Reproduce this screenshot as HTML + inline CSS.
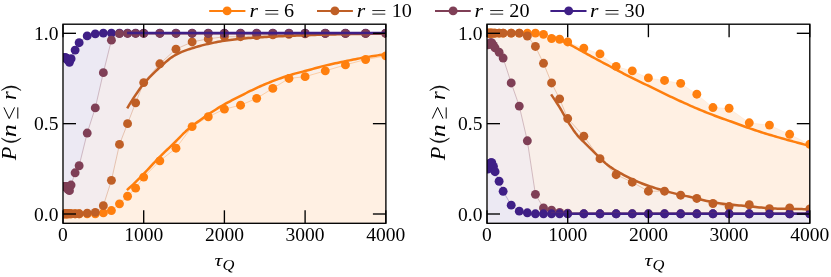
<!DOCTYPE html>
<html><head><meta charset="utf-8"><title>chart</title>
<style>html,body{margin:0;padding:0;background:#fff;}svg{display:block;}</style></head>
<body>
<svg width="831" height="277" viewBox="0 0 831 277">
<defs>
<clipPath id="clipL"><rect x="63" y="24.2" width="322.9" height="199.1"/></clipPath>
<clipPath id="clipR"><rect x="487" y="24.2" width="322.8" height="199.1"/></clipPath>
</defs>
<rect width="831" height="277" fill="#ffffff"/>
<g opacity="0.999">
<g clip-path="url(#clipL)">
<path d="M63.81,223.3 L63.81,57.68 L64.61,57.68 L65.42,57.68 L66.23,58.04 L67.03,58.76 L67.84,60.21 L69.46,62.37 L71.07,58.76 L75.11,50.09 L79.14,42.68 L87.21,35.9 L95.28,33.9 L103.35,33.1 L111.42,33.1 L119.49,33.1 L127.56,33.1 L135.63,33.1 L143.7,33.1 L159.84,33.1 L175.98,33.1 L192.12,33.1 L208.26,33.1 L224.4,33.1 L240.54,33.1 L256.68,33.1 L272.82,33.1 L288.96,33.1 L305.1,33.1 L325.27,33.1 L345.45,33.1 L365.62,33.1 L385.8,33.1 L385.8,223.3 Z" fill="#ece9f3"/>
<path d="M63.81,223.3 L63.81,186.33 L64.61,186.33 L65.42,186.33 L66.23,186.33 L67.03,186.7 L67.84,189.41 L69.46,190.67 L71.07,185.07 L75.11,172.78 L79.14,165.73 L87.21,133.03 L95.28,107.91 L103.35,72.67 L111.42,40.15 L119.49,33.64 L127.56,33.46 L135.63,33.46 L143.7,33.46 L159.84,33.46 L175.98,33.46 L192.12,33.46 L208.26,33.46 L224.4,33.46 L240.54,33.46 L256.68,33.46 L272.82,33.46 L288.96,33.46 L305.1,33.46 L325.27,33.46 L345.45,33.46 L365.62,33.46 L385.8,33.46 L385.8,223.3 Z" fill="#f3ecee"/>
<path d="M63.81,223.3 L63.81,213.8 L64.61,213.8 L65.42,213.8 L66.23,213.8 L67.03,213.8 L67.84,213.8 L69.46,213.8 L71.07,213.8 L75.11,213.8 L79.14,213.8 L87.21,213.08 L95.28,212.35 L103.35,205.67 L111.42,180.37 L119.49,144.41 L127.56,123.63 L135.63,102.85 L143.7,82.61 L159.84,63.82 L175.98,49.18 L192.12,41.95 L208.26,38.88 L224.4,36.71 L240.54,36.71 L256.68,35.63 L272.82,34.91 L288.96,34.36 L305.1,33.82 L325.27,33.46 L345.45,33.46 L365.62,33.46 L385.8,33.46 L385.8,223.3 Z" fill="#f9efe9"/>
<path d="M63.81,223.3 L63.81,213.8 L64.61,213.8 L65.42,213.8 L66.23,213.8 L67.03,213.8 L67.84,213.8 L69.46,213.8 L71.07,213.8 L75.11,213.8 L79.14,213.8 L87.21,213.8 L95.28,213.8 L103.35,212.9 L111.42,210.55 L119.49,203.86 L127.56,196.27 L135.63,188.14 L143.7,177.12 L159.84,160.85 L175.98,148.21 L192.12,126.61 L208.26,116.76 L224.4,109.17 L240.54,105.2 L256.68,98.33 L272.82,88.39 L288.96,78.46 L305.1,76.65 L325.27,70.87 L345.45,64.9 L365.62,59.48 L385.8,55.87 L385.8,223.3 Z" fill="#fff0e3"/>
<polyline points="63.81,213.8 64.61,213.8 65.42,213.8 66.23,213.8 67.03,213.8 67.84,213.8 69.46,213.8 71.07,213.8 75.11,213.8 79.14,213.8 87.21,213.8 95.28,213.8 103.35,212.9 111.42,210.55 119.49,203.86 127.56,196.27 135.63,188.14 143.7,177.12 159.84,160.85 175.98,148.21 192.12,126.61 208.26,116.76 224.4,109.17 240.54,105.2 256.68,98.33 272.82,88.39 288.96,78.46 305.1,76.65 325.27,70.87 345.45,64.9 365.62,59.48 385.8,55.87" fill="none" stroke="#ff7f0e" stroke-width="0.6" stroke-opacity="0.5"/>
<g fill="#ff7f0e"><circle cx="63.81" cy="213.8" r="4.45"/><circle cx="64.61" cy="213.8" r="4.45"/><circle cx="65.42" cy="213.8" r="4.45"/><circle cx="66.23" cy="213.8" r="4.45"/><circle cx="67.03" cy="213.8" r="4.45"/><circle cx="67.84" cy="213.8" r="4.45"/><circle cx="69.46" cy="213.8" r="4.45"/><circle cx="71.07" cy="213.8" r="4.45"/><circle cx="75.11" cy="213.8" r="4.45"/><circle cx="79.14" cy="213.8" r="4.45"/><circle cx="87.21" cy="213.8" r="4.45"/><circle cx="95.28" cy="213.8" r="4.45"/><circle cx="103.35" cy="212.9" r="4.45"/><circle cx="111.42" cy="210.55" r="4.45"/><circle cx="119.49" cy="203.86" r="4.45"/><circle cx="127.56" cy="196.27" r="4.45"/><circle cx="135.63" cy="188.14" r="4.45"/><circle cx="143.7" cy="177.12" r="4.45"/><circle cx="159.84" cy="160.85" r="4.45"/><circle cx="175.98" cy="148.21" r="4.45"/><circle cx="192.12" cy="126.61" r="4.45"/><circle cx="208.26" cy="116.76" r="4.45"/><circle cx="224.4" cy="109.17" r="4.45"/><circle cx="240.54" cy="105.2" r="4.45"/><circle cx="256.68" cy="98.33" r="4.45"/><circle cx="272.82" cy="88.39" r="4.45"/><circle cx="288.96" cy="78.46" r="4.45"/><circle cx="305.1" cy="76.65" r="4.45"/><circle cx="325.27" cy="70.87" r="4.45"/><circle cx="345.45" cy="64.9" r="4.45"/><circle cx="365.62" cy="59.48" r="4.45"/><circle cx="385.8" cy="55.87" r="4.45"/></g>
<polyline points="63.81,213.8 64.61,213.8 65.42,213.8 66.23,213.8 67.03,213.8 67.84,213.8 69.46,213.8 71.07,213.8 75.11,213.8 79.14,213.8 87.21,213.08 95.28,212.35 103.35,205.67 111.42,180.37 119.49,144.41 127.56,123.63 135.63,102.85 143.7,82.61 159.84,63.82 175.98,49.18 192.12,41.95 208.26,38.88 224.4,36.71 240.54,36.71 256.68,35.63 272.82,34.91 288.96,34.36 305.1,33.82 325.27,33.46 345.45,33.46 365.62,33.46 385.8,33.46" fill="none" stroke="#bf5f26" stroke-width="0.6" stroke-opacity="0.5"/>
<g fill="#bf5f26"><circle cx="63.81" cy="213.8" r="4.45"/><circle cx="64.61" cy="213.8" r="4.45"/><circle cx="65.42" cy="213.8" r="4.45"/><circle cx="66.23" cy="213.8" r="4.45"/><circle cx="67.03" cy="213.8" r="4.45"/><circle cx="67.84" cy="213.8" r="4.45"/><circle cx="69.46" cy="213.8" r="4.45"/><circle cx="71.07" cy="213.8" r="4.45"/><circle cx="75.11" cy="213.8" r="4.45"/><circle cx="79.14" cy="213.8" r="4.45"/><circle cx="87.21" cy="213.08" r="4.45"/><circle cx="95.28" cy="212.35" r="4.45"/><circle cx="103.35" cy="205.67" r="4.45"/><circle cx="111.42" cy="180.37" r="4.45"/><circle cx="119.49" cy="144.41" r="4.45"/><circle cx="127.56" cy="123.63" r="4.45"/><circle cx="135.63" cy="102.85" r="4.45"/><circle cx="143.7" cy="82.61" r="4.45"/><circle cx="159.84" cy="63.82" r="4.45"/><circle cx="175.98" cy="49.18" r="4.45"/><circle cx="192.12" cy="41.95" r="4.45"/><circle cx="208.26" cy="38.88" r="4.45"/><circle cx="224.4" cy="36.71" r="4.45"/><circle cx="240.54" cy="36.71" r="4.45"/><circle cx="256.68" cy="35.63" r="4.45"/><circle cx="272.82" cy="34.91" r="4.45"/><circle cx="288.96" cy="34.36" r="4.45"/><circle cx="305.1" cy="33.82" r="4.45"/><circle cx="325.27" cy="33.46" r="4.45"/><circle cx="345.45" cy="33.46" r="4.45"/><circle cx="365.62" cy="33.46" r="4.45"/><circle cx="385.8" cy="33.46" r="4.45"/></g>
<polyline points="63.81,57.68 64.61,57.68 65.42,57.68 66.23,58.04 67.03,58.76 67.84,60.21 69.46,62.37 71.07,58.76 75.11,50.09 79.14,42.68 87.21,35.9 95.28,33.9 103.35,33.1 111.42,33.1 119.49,33.1 127.56,33.1 135.63,33.1 143.7,33.1 159.84,33.1 175.98,33.1 192.12,33.1 208.26,33.1 224.4,33.1 240.54,33.1 256.68,33.1 272.82,33.1 288.96,33.1 305.1,33.1 325.27,33.1 345.45,33.1 365.62,33.1 385.8,33.1" fill="none" stroke="#3f1f86" stroke-width="0.6" stroke-opacity="0.5"/>
<g fill="#3f1f86"><circle cx="63.81" cy="57.68" r="4.45"/><circle cx="64.61" cy="57.68" r="4.45"/><circle cx="65.42" cy="57.68" r="4.45"/><circle cx="66.23" cy="58.04" r="4.45"/><circle cx="67.03" cy="58.76" r="4.45"/><circle cx="67.84" cy="60.21" r="4.45"/><circle cx="69.46" cy="62.37" r="4.45"/><circle cx="71.07" cy="58.76" r="4.45"/><circle cx="75.11" cy="50.09" r="4.45"/><circle cx="79.14" cy="42.68" r="4.45"/><circle cx="87.21" cy="35.9" r="4.45"/><circle cx="95.28" cy="33.9" r="4.45"/><circle cx="103.35" cy="33.1" r="4.45"/><circle cx="111.42" cy="33.1" r="4.45"/><circle cx="119.49" cy="33.1" r="4.45"/><circle cx="127.56" cy="33.1" r="4.45"/><circle cx="135.63" cy="33.1" r="4.45"/><circle cx="143.7" cy="33.1" r="4.45"/><circle cx="159.84" cy="33.1" r="4.45"/><circle cx="175.98" cy="33.1" r="4.45"/><circle cx="192.12" cy="33.1" r="4.45"/><circle cx="208.26" cy="33.1" r="4.45"/><circle cx="224.4" cy="33.1" r="4.45"/><circle cx="240.54" cy="33.1" r="4.45"/><circle cx="256.68" cy="33.1" r="4.45"/><circle cx="272.82" cy="33.1" r="4.45"/><circle cx="288.96" cy="33.1" r="4.45"/><circle cx="305.1" cy="33.1" r="4.45"/><circle cx="325.27" cy="33.1" r="4.45"/><circle cx="345.45" cy="33.1" r="4.45"/><circle cx="365.62" cy="33.1" r="4.45"/><circle cx="385.8" cy="33.1" r="4.45"/></g>
<polyline points="63.81,186.33 64.61,186.33 65.42,186.33 66.23,186.33 67.03,186.7 67.84,189.41 69.46,190.67 71.07,185.07 75.11,172.78 79.14,165.73 87.21,133.03 95.28,107.91 103.35,72.67 111.42,40.15 119.49,33.64 127.56,33.46 135.63,33.46 143.7,33.46 159.84,33.46 175.98,33.46 192.12,33.46 208.26,33.46 224.4,33.46 240.54,33.46 256.68,33.46 272.82,33.46 288.96,33.46 305.1,33.46 325.27,33.46 345.45,33.46 365.62,33.46 385.8,33.46" fill="none" stroke="#7f3f56" stroke-width="0.6" stroke-opacity="0.5"/>
<g fill="#7f3f56"><circle cx="63.81" cy="186.33" r="4.45"/><circle cx="64.61" cy="186.33" r="4.45"/><circle cx="65.42" cy="186.33" r="4.45"/><circle cx="66.23" cy="186.33" r="4.45"/><circle cx="67.03" cy="186.7" r="4.45"/><circle cx="67.84" cy="189.41" r="4.45"/><circle cx="69.46" cy="190.67" r="4.45"/><circle cx="71.07" cy="185.07" r="4.45"/><circle cx="75.11" cy="172.78" r="4.45"/><circle cx="79.14" cy="165.73" r="4.45"/><circle cx="87.21" cy="133.03" r="4.45"/><circle cx="95.28" cy="107.91" r="4.45"/><circle cx="103.35" cy="72.67" r="4.45"/><circle cx="111.42" cy="40.15" r="4.45"/><circle cx="119.49" cy="33.64" r="4.45"/><circle cx="127.56" cy="33.46" r="4.45"/><circle cx="135.63" cy="33.46" r="4.45"/><circle cx="143.7" cy="33.46" r="4.45"/><circle cx="159.84" cy="33.46" r="4.45"/><circle cx="175.98" cy="33.46" r="4.45"/><circle cx="192.12" cy="33.46" r="4.45"/><circle cx="208.26" cy="33.46" r="4.45"/><circle cx="224.4" cy="33.46" r="4.45"/><circle cx="240.54" cy="33.46" r="4.45"/><circle cx="256.68" cy="33.46" r="4.45"/><circle cx="272.82" cy="33.46" r="4.45"/><circle cx="288.96" cy="33.46" r="4.45"/><circle cx="305.1" cy="33.46" r="4.45"/><circle cx="325.27" cy="33.46" r="4.45"/><circle cx="345.45" cy="33.46" r="4.45"/><circle cx="365.62" cy="33.46" r="4.45"/><circle cx="385.8" cy="33.46" r="4.45"/></g>
<polyline points="126.9,190.1 128.92,188.31 130.95,186.48 132.97,184.6 134.99,182.68 137.01,180.72 139.04,178.7 141.06,176.64 143.08,174.55 145.1,172.43 147.13,170.25 149.15,168.04 151.17,165.83 153.19,163.65 155.22,161.52 157.24,159.41 159.26,157.34 161.29,155.33 163.31,153.38 165.33,151.45 167.35,149.53 169.38,147.6 171.4,145.65 173.42,143.7 175.44,141.74 177.47,139.73 179.49,137.63 181.51,135.49 183.53,133.43 185.56,131.54 187.58,129.76 189.6,128.06 191.62,126.42 193.65,124.85 195.67,123.35 197.69,121.88 199.72,120.4 201.74,118.92 203.76,117.45 205.78,116 207.81,114.6 209.83,113.26 211.85,111.97 213.87,110.7 215.9,109.44 217.92,108.18 219.94,106.94 221.96,105.72 223.99,104.55 226.01,103.43 228.03,102.34 230.06,101.27 232.08,100.23 234.1,99.2 236.12,98.17 238.15,97.15 240.17,96.11 242.19,95.07 244.21,94.03 246.24,93 248.26,91.99 250.28,90.99 252.3,90.02 254.33,89.06 256.35,88.11 258.37,87.18 260.4,86.26 262.42,85.36 264.44,84.48 266.46,83.63 268.49,82.8 270.51,81.99 272.53,81.2 274.55,80.42 276.58,79.66 278.6,78.92 280.62,78.2 282.64,77.49 284.67,76.81 286.69,76.14 288.71,75.49 290.74,74.85 292.76,74.25 294.78,73.66 296.8,73.11 298.83,72.59 300.85,72.09 302.87,71.59 304.89,71.08 306.92,70.54 308.94,69.99 310.96,69.43 312.98,68.86 315.01,68.29 317.03,67.73 319.05,67.18 321.07,66.64 323.1,66.12 325.12,65.62 327.14,65.14 329.17,64.67 331.19,64.22 333.21,63.77 335.23,63.34 337.26,62.91 339.28,62.48 341.3,62.06 343.32,61.65 345.35,61.23 347.37,60.81 349.39,60.39 351.41,59.97 353.44,59.56 355.46,59.15 357.48,58.75 359.51,58.36 361.53,57.98 363.55,57.62 365.57,57.27 367.6,56.94 369.62,56.61 371.64,56.29 373.66,55.97 375.69,55.67 377.71,55.38 379.73,55.09 381.75,54.82 383.78,54.55 385.8,54.3" fill="none" stroke="#ff7f0e" stroke-width="2.5" stroke-linejoin="round"/>
<polyline points="127.2,108.3 129.22,104.89 131.24,101.6 133.26,98.43 135.28,95.38 137.3,92.43 139.32,89.57 141.34,86.84 143.36,84.29 145.38,81.9 147.4,79.62 149.42,77.43 151.44,75.33 153.46,73.31 155.48,71.37 157.5,69.5 159.53,67.64 161.55,65.79 163.57,63.96 165.59,62.18 167.61,60.47 169.63,58.85 171.65,57.36 173.67,56 175.69,54.82 177.71,53.79 179.73,52.84 181.75,51.96 183.77,51.14 185.79,50.38 187.81,49.66 189.83,48.98 191.85,48.33 193.87,47.7 195.89,47.09 197.91,46.5 199.93,45.94 201.95,45.4 203.97,44.88 205.99,44.39 208.01,43.92 210.03,43.46 212.05,43.03 214.07,42.62 216.09,42.22 218.11,41.84 220.13,41.48 222.15,41.14 224.18,40.82 226.2,40.52 228.22,40.24 230.24,39.96 232.26,39.7 234.28,39.46 236.3,39.23 238.32,39.02 240.34,38.81 242.36,38.62 244.38,38.44 246.4,38.27 248.42,38.12 250.44,37.97 252.46,37.83 254.48,37.69 256.5,37.56 258.52,37.44 260.54,37.32 262.56,37.2 264.58,37.09 266.6,36.98 268.62,36.87 270.64,36.77 272.66,36.66 274.68,36.56 276.7,36.47 278.72,36.37 280.74,36.27 282.76,36.18 284.78,36.09 286.8,36 288.82,35.92 290.85,35.83 292.87,35.75 294.89,35.67 296.91,35.59 298.93,35.51 300.95,35.44 302.97,35.36 304.99,35.29 307.01,35.22 309.03,35.14 311.05,35.07 313.07,35 315.09,34.93 317.11,34.86 319.13,34.8 321.15,34.73 323.17,34.67 325.19,34.62 327.21,34.57 329.23,34.52 331.25,34.47 333.27,34.43 335.29,34.39 337.31,34.35 339.33,34.31 341.35,34.28 343.37,34.25 345.39,34.21 347.41,34.18 349.43,34.15 351.45,34.12 353.48,34.09 355.5,34.06 357.52,34.03 359.54,34.01 361.56,33.98 363.58,33.95 365.6,33.93 367.62,33.9 369.64,33.88 371.66,33.85 373.68,33.83 375.7,33.8 377.72,33.78 379.74,33.76 381.76,33.74 383.78,33.72 385.8,33.7" fill="none" stroke="#bf5f26" stroke-width="2.5" stroke-linejoin="round"/>
<polyline points="127.1,33.2 385.8,33.2" fill="none" stroke="#7f3f56" stroke-width="2.5" stroke-linejoin="round"/>
<polyline points="127.1,33.1 385.8,33.1" fill="none" stroke="#3f1f86" stroke-width="2.5" stroke-linejoin="round"/>
</g>
<g stroke="#000" stroke-width="1.35">
<line x1="63" y1="223.3" x2="63" y2="210.3"/>
<line x1="63" y1="24.2" x2="63" y2="37.2"/>
<line x1="143.7" y1="223.3" x2="143.7" y2="210.3"/>
<line x1="143.7" y1="24.2" x2="143.7" y2="37.2"/>
<line x1="224.4" y1="223.3" x2="224.4" y2="210.3"/>
<line x1="224.4" y1="24.2" x2="224.4" y2="37.2"/>
<line x1="305.1" y1="223.3" x2="305.1" y2="210.3"/>
<line x1="305.1" y1="24.2" x2="305.1" y2="37.2"/>
<line x1="385.8" y1="223.3" x2="385.8" y2="210.3"/>
<line x1="385.8" y1="24.2" x2="385.8" y2="37.2"/>
<line x1="63" y1="214" x2="76" y2="214"/>
<line x1="385.9" y1="214" x2="372.9" y2="214"/>
<line x1="63" y1="123.65" x2="76" y2="123.65"/>
<line x1="385.9" y1="123.65" x2="372.9" y2="123.65"/>
<line x1="63" y1="33.3" x2="76" y2="33.3"/>
<line x1="385.9" y1="33.3" x2="372.9" y2="33.3"/>
</g>
<rect x="63" y="24.2" width="322.9" height="199.1" fill="none" stroke="#000" stroke-width="1.35"/>
<g font-family="'Liberation Serif', serif" font-size="18.6" fill="#000">
<text transform="translate(63,240.8) scale(1.05,1)" text-anchor="middle">0</text>
<text transform="translate(143.7,240.8) scale(1.05,1)" text-anchor="middle">1000</text>
<text transform="translate(224.4,240.8) scale(1.05,1)" text-anchor="middle">2000</text>
<text transform="translate(305.1,240.8) scale(1.05,1)" text-anchor="middle">3000</text>
<text transform="translate(385.8,240.8) scale(1.05,1)" text-anchor="middle">4000</text>
<text transform="translate(58.4,220.6) scale(1.05,1)" text-anchor="end">0.0</text>
<text transform="translate(58.4,130.25) scale(1.05,1)" text-anchor="end">0.5</text>
<text transform="translate(58.4,39.9) scale(1.05,1)" text-anchor="end">1.0</text>
</g>
<g font-family="'Liberation Serif', serif" font-style="italic" fill="#000"><text transform="translate(214.45,266.2) scale(1.3,1)" font-size="16.5">τ</text><text transform="translate(222.45,269.9) scale(1.1,1)" font-size="15">Q</text></g>
<g transform="translate(16.3,160.6) rotate(-90)" font-family="'Liberation Serif', serif" fill="#000">
<text transform="translate(0.3,0) scale(1.12,1)" font-size="20" font-style="italic">P</text><text transform="translate(23.4,0) scale(1.3,1)" font-size="20" font-style="italic">n</text><text transform="translate(60.6,0) scale(1.12,1)" font-size="20" font-style="italic">r</text>
<path d="M22.4,-15 Q13.6,-5.1 22.4,4.8 Q16.2,-5.1 22.4,-15 Z" stroke="#000" stroke-width="0.5"/>
<path d="M70.2,-15 Q79,-5.1 70.2,4.8 Q76.4,-5.1 70.2,-15 Z" stroke="#000" stroke-width="0.5"/>
<polyline points="53.2,-12.4 42,-7.1 53.2,-1.7" fill="none" stroke="#000" stroke-width="1.0"/>
<line x1="42" y1="1.5" x2="53.2" y2="1.5" stroke="#000" stroke-width="1.0"/>
</g>
<g clip-path="url(#clipR)">
<path d="M487.81,223.3 L487.81,33.1 L488.61,33.1 L489.42,33.1 L490.23,33.1 L491.04,33.1 L491.84,33.1 L493.46,33.1 L495.07,33.1 L499.11,33.1 L503.14,33.1 L511.21,33.1 L519.28,33.1 L527.35,33.1 L535.42,33.1 L543.49,34.36 L551.56,38.52 L559.63,39.24 L567.7,41.95 L583.84,48.1 L599.98,53.88 L616.12,66.35 L632.26,70.87 L648.4,77.91 L664.54,80.44 L680.68,83.33 L696.82,94.18 L712.96,107.55 L729.1,108.27 L749.27,122.8 L769.45,125.08 L789.62,134.29 L809.8,144.23 L809.8,223.3 Z" fill="#fff0e3"/>
<path d="M487.81,223.3 L487.81,33.1 L488.61,33.1 L489.42,33.1 L490.23,33.1 L491.04,33.1 L491.84,33.1 L493.46,33.1 L495.07,33.1 L499.11,33.1 L503.14,33.1 L511.21,33.1 L519.28,33.1 L527.35,35.99 L535.42,46.47 L543.49,63.28 L551.56,82.97 L559.63,98.87 L567.7,118.57 L583.84,136.19 L599.98,158.69 L616.12,174.7 L632.26,182.18 L648.4,191.21 L664.54,191.21 L680.68,195.19 L696.82,198.44 L712.96,203.5 L729.1,206.57 L749.27,204.77 L769.45,208.74 L789.62,208.02 L809.8,208.99 L809.8,223.3 Z" fill="#f9efe9"/>
<path d="M487.81,223.3 L487.81,44.85 L488.61,44.3 L489.42,43.58 L490.23,43.04 L491.04,42.68 L491.84,42.86 L493.46,45.39 L495.07,47.92 L499.11,52.25 L503.14,58.04 L511.21,82.97 L519.28,106.1 L527.35,140.8 L535.42,194.37 L543.49,207.91 L551.56,210.19 L559.63,212.35 L567.7,213.26 L583.84,213.8 L599.98,213.8 L616.12,213.8 L632.26,213.8 L648.4,213.8 L664.54,213.8 L680.68,213.8 L696.82,213.8 L712.96,213.8 L729.1,213.8 L749.27,213.8 L769.45,213.8 L789.62,213.8 L809.8,213.8 L809.8,223.3 Z" fill="#f3ecee"/>
<path d="M487.81,223.3 L487.81,169.17 L488.61,166.46 L489.42,164.47 L490.23,163.2 L491.04,162.66 L491.84,162.66 L493.46,166.46 L495.07,171.7 L499.11,181.27 L503.14,191.3 L511.21,205.13 L519.28,211.16 L527.35,212.79 L535.42,213.8 L543.49,213.8 L551.56,213.8 L559.63,213.8 L567.7,213.8 L583.84,213.8 L599.98,213.8 L616.12,213.8 L632.26,213.8 L648.4,213.8 L664.54,213.8 L680.68,213.8 L696.82,213.8 L712.96,213.8 L729.1,213.8 L749.27,213.8 L769.45,213.8 L789.62,213.8 L809.8,213.8 L809.8,223.3 Z" fill="#ece9f3"/>
<polyline points="487.81,33.1 488.61,33.1 489.42,33.1 490.23,33.1 491.04,33.1 491.84,33.1 493.46,33.1 495.07,33.1 499.11,33.1 503.14,33.1 511.21,33.1 519.28,33.1 527.35,33.1 535.42,33.1 543.49,34.36 551.56,38.52 559.63,39.24 567.7,41.95 583.84,48.1 599.98,53.88 616.12,66.35 632.26,70.87 648.4,77.91 664.54,80.44 680.68,83.33 696.82,94.18 712.96,107.55 729.1,108.27 749.27,122.8 769.45,125.08 789.62,134.29 809.8,144.23" fill="none" stroke="#ff7f0e" stroke-width="0.6" stroke-opacity="0.12"/>
<g fill="#ff7f0e"><circle cx="487.81" cy="33.1" r="4.45"/><circle cx="488.61" cy="33.1" r="4.45"/><circle cx="489.42" cy="33.1" r="4.45"/><circle cx="490.23" cy="33.1" r="4.45"/><circle cx="491.04" cy="33.1" r="4.45"/><circle cx="491.84" cy="33.1" r="4.45"/><circle cx="493.46" cy="33.1" r="4.45"/><circle cx="495.07" cy="33.1" r="4.45"/><circle cx="499.11" cy="33.1" r="4.45"/><circle cx="503.14" cy="33.1" r="4.45"/><circle cx="511.21" cy="33.1" r="4.45"/><circle cx="519.28" cy="33.1" r="4.45"/><circle cx="527.35" cy="33.1" r="4.45"/><circle cx="535.42" cy="33.1" r="4.45"/><circle cx="543.49" cy="34.36" r="4.45"/><circle cx="551.56" cy="38.52" r="4.45"/><circle cx="559.63" cy="39.24" r="4.45"/><circle cx="567.7" cy="41.95" r="4.45"/><circle cx="583.84" cy="48.1" r="4.45"/><circle cx="599.98" cy="53.88" r="4.45"/><circle cx="616.12" cy="66.35" r="4.45"/><circle cx="632.26" cy="70.87" r="4.45"/><circle cx="648.4" cy="77.91" r="4.45"/><circle cx="664.54" cy="80.44" r="4.45"/><circle cx="680.68" cy="83.33" r="4.45"/><circle cx="696.82" cy="94.18" r="4.45"/><circle cx="712.96" cy="107.55" r="4.45"/><circle cx="729.1" cy="108.27" r="4.45"/><circle cx="749.27" cy="122.8" r="4.45"/><circle cx="769.45" cy="125.08" r="4.45"/><circle cx="789.62" cy="134.29" r="4.45"/><circle cx="809.8" cy="144.23" r="4.45"/></g>
<polyline points="487.81,33.1 488.61,33.1 489.42,33.1 490.23,33.1 491.04,33.1 491.84,33.1 493.46,33.1 495.07,33.1 499.11,33.1 503.14,33.1 511.21,33.1 519.28,33.1 527.35,35.99 535.42,46.47 543.49,63.28 551.56,82.97 559.63,98.87 567.7,118.57 583.84,136.19 599.98,158.69 616.12,174.7 632.26,182.18 648.4,191.21 664.54,191.21 680.68,195.19 696.82,198.44 712.96,203.5 729.1,206.57 749.27,204.77 769.45,208.74 789.62,208.02 809.8,208.99" fill="none" stroke="#bf5f26" stroke-width="0.6" stroke-opacity="0.5"/>
<g fill="#bf5f26"><circle cx="487.81" cy="33.1" r="4.45"/><circle cx="488.61" cy="33.1" r="4.45"/><circle cx="489.42" cy="33.1" r="4.45"/><circle cx="490.23" cy="33.1" r="4.45"/><circle cx="491.04" cy="33.1" r="4.45"/><circle cx="491.84" cy="33.1" r="4.45"/><circle cx="493.46" cy="33.1" r="4.45"/><circle cx="495.07" cy="33.1" r="4.45"/><circle cx="499.11" cy="33.1" r="4.45"/><circle cx="503.14" cy="33.1" r="4.45"/><circle cx="511.21" cy="33.1" r="4.45"/><circle cx="519.28" cy="33.1" r="4.45"/><circle cx="527.35" cy="35.99" r="4.45"/><circle cx="535.42" cy="46.47" r="4.45"/><circle cx="543.49" cy="63.28" r="4.45"/><circle cx="551.56" cy="82.97" r="4.45"/><circle cx="559.63" cy="98.87" r="4.45"/><circle cx="567.7" cy="118.57" r="4.45"/><circle cx="583.84" cy="136.19" r="4.45"/><circle cx="599.98" cy="158.69" r="4.45"/><circle cx="616.12" cy="174.7" r="4.45"/><circle cx="632.26" cy="182.18" r="4.45"/><circle cx="648.4" cy="191.21" r="4.45"/><circle cx="664.54" cy="191.21" r="4.45"/><circle cx="680.68" cy="195.19" r="4.45"/><circle cx="696.82" cy="198.44" r="4.45"/><circle cx="712.96" cy="203.5" r="4.45"/><circle cx="729.1" cy="206.57" r="4.45"/><circle cx="749.27" cy="204.77" r="4.45"/><circle cx="769.45" cy="208.74" r="4.45"/><circle cx="789.62" cy="208.02" r="4.45"/><circle cx="809.8" cy="208.99" r="4.45"/></g>
<polyline points="487.81,44.85 488.61,44.3 489.42,43.58 490.23,43.04 491.04,42.68 491.84,42.86 493.46,45.39 495.07,47.92 499.11,52.25 503.14,58.04 511.21,82.97 519.28,106.1 527.35,140.8 535.42,194.37 543.49,207.91 551.56,210.19 559.63,212.35 567.7,213.26 583.84,213.8 599.98,213.8 616.12,213.8 632.26,213.8 648.4,213.8 664.54,213.8 680.68,213.8 696.82,213.8 712.96,213.8 729.1,213.8 749.27,213.8 769.45,213.8 789.62,213.8 809.8,213.8" fill="none" stroke="#7f3f56" stroke-width="0.6" stroke-opacity="0.5"/>
<g fill="#7f3f56"><circle cx="487.81" cy="44.85" r="4.45"/><circle cx="488.61" cy="44.3" r="4.45"/><circle cx="489.42" cy="43.58" r="4.45"/><circle cx="490.23" cy="43.04" r="4.45"/><circle cx="491.04" cy="42.68" r="4.45"/><circle cx="491.84" cy="42.86" r="4.45"/><circle cx="493.46" cy="45.39" r="4.45"/><circle cx="495.07" cy="47.92" r="4.45"/><circle cx="499.11" cy="52.25" r="4.45"/><circle cx="503.14" cy="58.04" r="4.45"/><circle cx="511.21" cy="82.97" r="4.45"/><circle cx="519.28" cy="106.1" r="4.45"/><circle cx="527.35" cy="140.8" r="4.45"/><circle cx="535.42" cy="194.37" r="4.45"/><circle cx="543.49" cy="207.91" r="4.45"/><circle cx="551.56" cy="210.19" r="4.45"/><circle cx="559.63" cy="212.35" r="4.45"/><circle cx="567.7" cy="213.26" r="4.45"/><circle cx="583.84" cy="213.8" r="4.45"/><circle cx="599.98" cy="213.8" r="4.45"/><circle cx="616.12" cy="213.8" r="4.45"/><circle cx="632.26" cy="213.8" r="4.45"/><circle cx="648.4" cy="213.8" r="4.45"/><circle cx="664.54" cy="213.8" r="4.45"/><circle cx="680.68" cy="213.8" r="4.45"/><circle cx="696.82" cy="213.8" r="4.45"/><circle cx="712.96" cy="213.8" r="4.45"/><circle cx="729.1" cy="213.8" r="4.45"/><circle cx="749.27" cy="213.8" r="4.45"/><circle cx="769.45" cy="213.8" r="4.45"/><circle cx="789.62" cy="213.8" r="4.45"/><circle cx="809.8" cy="213.8" r="4.45"/></g>
<polyline points="487.81,169.17 488.61,166.46 489.42,164.47 490.23,163.2 491.04,162.66 491.84,162.66 493.46,166.46 495.07,171.7 499.11,181.27 503.14,191.3 511.21,205.13 519.28,211.16 527.35,212.79 535.42,213.8 543.49,213.8 551.56,213.8 559.63,213.8 567.7,213.8 583.84,213.8 599.98,213.8 616.12,213.8 632.26,213.8 648.4,213.8 664.54,213.8 680.68,213.8 696.82,213.8 712.96,213.8 729.1,213.8 749.27,213.8 769.45,213.8 789.62,213.8 809.8,213.8" fill="none" stroke="#3f1f86" stroke-width="0.6" stroke-opacity="0.5"/>
<g fill="#3f1f86"><circle cx="487.81" cy="169.17" r="4.45"/><circle cx="488.61" cy="166.46" r="4.45"/><circle cx="489.42" cy="164.47" r="4.45"/><circle cx="490.23" cy="163.2" r="4.45"/><circle cx="491.04" cy="162.66" r="4.45"/><circle cx="491.84" cy="162.66" r="4.45"/><circle cx="493.46" cy="166.46" r="4.45"/><circle cx="495.07" cy="171.7" r="4.45"/><circle cx="499.11" cy="181.27" r="4.45"/><circle cx="503.14" cy="191.3" r="4.45"/><circle cx="511.21" cy="205.13" r="4.45"/><circle cx="519.28" cy="211.16" r="4.45"/><circle cx="527.35" cy="212.79" r="4.45"/><circle cx="535.42" cy="213.8" r="4.45"/><circle cx="543.49" cy="213.8" r="4.45"/><circle cx="551.56" cy="213.8" r="4.45"/><circle cx="559.63" cy="213.8" r="4.45"/><circle cx="567.7" cy="213.8" r="4.45"/><circle cx="583.84" cy="213.8" r="4.45"/><circle cx="599.98" cy="213.8" r="4.45"/><circle cx="616.12" cy="213.8" r="4.45"/><circle cx="632.26" cy="213.8" r="4.45"/><circle cx="648.4" cy="213.8" r="4.45"/><circle cx="664.54" cy="213.8" r="4.45"/><circle cx="680.68" cy="213.8" r="4.45"/><circle cx="696.82" cy="213.8" r="4.45"/><circle cx="712.96" cy="213.8" r="4.45"/><circle cx="729.1" cy="213.8" r="4.45"/><circle cx="749.27" cy="213.8" r="4.45"/><circle cx="769.45" cy="213.8" r="4.45"/><circle cx="789.62" cy="213.8" r="4.45"/><circle cx="809.8" cy="213.8" r="4.45"/></g>
<polyline points="551.2,36.2 553.22,36.96 555.24,37.76 557.26,38.6 559.28,39.46 561.3,40.36 563.32,41.3 565.34,42.28 567.36,43.28 569.38,44.31 571.4,45.38 573.42,46.48 575.44,47.59 577.46,48.72 579.48,49.85 581.5,50.98 583.53,52.09 585.55,53.2 587.57,54.32 589.59,55.43 591.61,56.55 593.63,57.66 595.65,58.75 597.67,59.84 599.69,60.93 601.71,62 603.73,63.07 605.75,64.14 607.77,65.2 609.79,66.27 611.81,67.34 613.83,68.4 615.85,69.48 617.87,70.56 619.89,71.64 621.91,72.72 623.93,73.78 625.95,74.83 627.97,75.85 629.99,76.85 632.01,77.84 634.03,78.82 636.05,79.8 638.07,80.79 640.09,81.78 642.11,82.77 644.13,83.76 646.15,84.75 648.17,85.74 650.2,86.73 652.22,87.71 654.24,88.7 656.26,89.68 658.28,90.66 660.3,91.64 662.32,92.62 664.34,93.6 666.36,94.58 668.38,95.55 670.4,96.52 672.42,97.48 674.44,98.44 676.46,99.38 678.48,100.31 680.5,101.24 682.52,102.16 684.54,103.07 686.56,103.98 688.58,104.88 690.6,105.77 692.62,106.66 694.64,107.53 696.66,108.39 698.68,109.24 700.7,110.09 702.72,110.92 704.74,111.74 706.76,112.56 708.78,113.36 710.8,114.16 712.83,114.95 714.85,115.72 716.87,116.49 718.89,117.24 720.91,117.97 722.93,118.7 724.95,119.41 726.97,120.13 728.99,120.84 731.01,121.55 733.03,122.28 735.05,123.01 737.07,123.76 739.09,124.51 741.11,125.26 743.13,126.01 745.15,126.75 747.17,127.47 749.19,128.18 751.21,128.87 753.23,129.55 755.25,130.23 757.27,130.89 759.29,131.55 761.31,132.2 763.33,132.84 765.35,133.47 767.37,134.09 769.39,134.71 771.41,135.31 773.43,135.91 775.45,136.5 777.47,137.08 779.5,137.66 781.52,138.24 783.54,138.81 785.56,139.38 787.58,139.95 789.6,140.51 791.62,141.06 793.64,141.62 795.66,142.16 797.68,142.71 799.7,143.26 801.72,143.8 803.74,144.35 805.76,144.9 807.78,145.45 809.8,146" fill="none" stroke="#ff7f0e" stroke-width="2.5" stroke-linejoin="round"/>
<polyline points="551.1,94.4 553.12,97.35 555.14,100.38 557.16,103.5 559.18,106.69 561.21,110 563.23,113.52 565.25,117.1 567.27,120.6 569.29,123.85 571.31,126.93 573.33,129.91 575.35,132.73 577.37,135.33 579.4,137.66 581.42,139.74 583.44,141.69 585.46,143.6 587.48,145.58 589.5,147.62 591.52,149.66 593.54,151.69 595.56,153.68 597.59,155.65 599.61,157.64 601.63,159.62 603.65,161.54 605.67,163.35 607.69,164.99 609.71,166.47 611.73,167.87 613.75,169.2 615.77,170.46 617.8,171.67 619.82,172.83 621.84,173.95 623.86,175.03 625.88,176.09 627.9,177.12 629.92,178.12 631.94,179.09 633.96,180.03 635.99,180.94 638.01,181.82 640.03,182.66 642.05,183.47 644.07,184.25 646.09,184.99 648.11,185.71 650.13,186.4 652.15,187.06 654.18,187.7 656.2,188.33 658.22,188.94 660.24,189.53 662.26,190.12 664.28,190.69 666.3,191.25 668.32,191.8 670.34,192.34 672.37,192.86 674.39,193.37 676.41,193.87 678.43,194.36 680.45,194.83 682.47,195.29 684.49,195.72 686.51,196.14 688.53,196.57 690.56,197.03 692.58,197.51 694.6,198.02 696.62,198.54 698.64,199.05 700.66,199.56 702.68,200.05 704.7,200.51 706.72,200.93 708.75,201.33 710.77,201.72 712.79,202.1 714.81,202.46 716.83,202.81 718.85,203.14 720.87,203.44 722.89,203.73 724.91,203.99 726.94,204.23 728.96,204.44 730.98,204.65 733,204.84 735.02,205.03 737.04,205.21 739.06,205.4 741.08,205.59 743.1,205.79 745.12,205.99 747.15,206.2 749.17,206.4 751.19,206.6 753.21,206.81 755.23,207.01 757.25,207.2 759.27,207.4 761.29,207.6 763.31,207.82 765.34,208.03 767.36,208.23 769.38,208.37 771.4,208.46 773.42,208.53 775.44,208.59 777.46,208.65 779.48,208.7 781.5,208.74 783.53,208.78 785.55,208.82 787.57,208.86 789.59,208.89 791.61,208.93 793.63,208.97 795.65,209 797.67,209.04 799.69,209.07 801.72,209.1 803.74,209.13 805.76,209.15 807.78,209.18 809.8,209.2" fill="none" stroke="#bf5f26" stroke-width="2.5" stroke-linejoin="round"/>
<polyline points="551.1,213.7 809.8,213.8" fill="none" stroke="#7f3f56" stroke-width="2.5" stroke-linejoin="round"/>
<polyline points="551.1,213.8 809.8,213.8" fill="none" stroke="#3f1f86" stroke-width="2.5" stroke-linejoin="round"/>
</g>
<g stroke="#000" stroke-width="1.35">
<line x1="487" y1="223.3" x2="487" y2="210.3"/>
<line x1="487" y1="24.2" x2="487" y2="37.2"/>
<line x1="567.7" y1="223.3" x2="567.7" y2="210.3"/>
<line x1="567.7" y1="24.2" x2="567.7" y2="37.2"/>
<line x1="648.4" y1="223.3" x2="648.4" y2="210.3"/>
<line x1="648.4" y1="24.2" x2="648.4" y2="37.2"/>
<line x1="729.1" y1="223.3" x2="729.1" y2="210.3"/>
<line x1="729.1" y1="24.2" x2="729.1" y2="37.2"/>
<line x1="809.8" y1="223.3" x2="809.8" y2="210.3"/>
<line x1="809.8" y1="24.2" x2="809.8" y2="37.2"/>
<line x1="487" y1="214" x2="500" y2="214"/>
<line x1="809.8" y1="214" x2="796.8" y2="214"/>
<line x1="487" y1="123.65" x2="500" y2="123.65"/>
<line x1="809.8" y1="123.65" x2="796.8" y2="123.65"/>
<line x1="487" y1="33.3" x2="500" y2="33.3"/>
<line x1="809.8" y1="33.3" x2="796.8" y2="33.3"/>
</g>
<rect x="487" y="24.2" width="322.8" height="199.1" fill="none" stroke="#000" stroke-width="1.35"/>
<g font-family="'Liberation Serif', serif" font-size="18.6" fill="#000">
<text transform="translate(487,240.8) scale(1.05,1)" text-anchor="middle">0</text>
<text transform="translate(567.7,240.8) scale(1.05,1)" text-anchor="middle">1000</text>
<text transform="translate(648.4,240.8) scale(1.05,1)" text-anchor="middle">2000</text>
<text transform="translate(729.1,240.8) scale(1.05,1)" text-anchor="middle">3000</text>
<text transform="translate(809.8,240.8) scale(1.05,1)" text-anchor="middle">4000</text>
<text transform="translate(482.4,220.6) scale(1.05,1)" text-anchor="end">0.0</text>
<text transform="translate(482.4,130.25) scale(1.05,1)" text-anchor="end">0.5</text>
<text transform="translate(482.4,39.9) scale(1.05,1)" text-anchor="end">1.0</text>
</g>
<g font-family="'Liberation Serif', serif" font-style="italic" fill="#000"><text transform="translate(644.5,266.2) scale(1.3,1)" font-size="16.5">τ</text><text transform="translate(652.5,269.9) scale(1.1,1)" font-size="15">Q</text></g>
<g transform="translate(444.7,160.6) rotate(-90)" font-family="'Liberation Serif', serif" fill="#000">
<text transform="translate(0.3,0) scale(1.12,1)" font-size="20" font-style="italic">P</text><text transform="translate(23.4,0) scale(1.3,1)" font-size="20" font-style="italic">n</text><text transform="translate(60.6,0) scale(1.12,1)" font-size="20" font-style="italic">r</text>
<path d="M22.4,-15 Q13.6,-5.1 22.4,4.8 Q16.2,-5.1 22.4,-15 Z" stroke="#000" stroke-width="0.5"/>
<path d="M70.2,-15 Q79,-5.1 70.2,4.8 Q76.4,-5.1 70.2,-15 Z" stroke="#000" stroke-width="0.5"/>
<polyline points="42,-12.4 53.2,-7.1 42,-1.7" fill="none" stroke="#000" stroke-width="1.0"/>
<line x1="42" y1="1.5" x2="53.2" y2="1.5" stroke="#000" stroke-width="1.0"/>
</g>
<line x1="209.2" y1="10.9" x2="245.4" y2="10.9" stroke="#ff7f0e" stroke-width="2.0"/>
<circle cx="227.1" cy="10.9" r="4.45" fill="#ff7f0e"/>
<g font-family="'Liberation Serif', serif" font-size="19.4" fill="#000"><text transform="translate(249.4,17.1) scale(1.12,1)" font-style="italic">r</text><text transform="translate(284,17.1) scale(1.04,1)">6</text></g>
<path d="M265.3,10.55H278.3 M265.3,14.15H278.3" stroke="#000" stroke-width="0.85" fill="none"/>
<line x1="317" y1="10.9" x2="352.9" y2="10.9" stroke="#bf5f26" stroke-width="2.0"/>
<circle cx="334.9" cy="10.9" r="4.45" fill="#bf5f26"/>
<g font-family="'Liberation Serif', serif" font-size="19.4" fill="#000"><text transform="translate(356.7,17.1) scale(1.12,1)" font-style="italic">r</text><text transform="translate(391.7,17.1) scale(1.04,1)">10</text></g>
<path d="M372.3,10.55H385.3 M372.3,14.15H385.3" stroke="#000" stroke-width="0.85" fill="none"/>
<line x1="435" y1="10.9" x2="470.8" y2="10.9" stroke="#7f3f56" stroke-width="2.0"/>
<circle cx="453.1" cy="10.9" r="4.45" fill="#7f3f56"/>
<g font-family="'Liberation Serif', serif" font-size="19.4" fill="#000"><text transform="translate(474.5,17.1) scale(1.12,1)" font-style="italic">r</text><text transform="translate(509.3,17.1) scale(1.04,1)">20</text></g>
<path d="M490.2,10.55H503.2 M490.2,14.15H503.2" stroke="#000" stroke-width="0.85" fill="none"/>
<line x1="550.4" y1="10.9" x2="586.5" y2="10.9" stroke="#3f1f86" stroke-width="2.0"/>
<circle cx="568.7" cy="10.9" r="4.45" fill="#3f1f86"/>
<g font-family="'Liberation Serif', serif" font-size="19.4" fill="#000"><text transform="translate(589.9,17.1) scale(1.12,1)" font-style="italic">r</text><text transform="translate(624.6,17.1) scale(1.04,1)">30</text></g>
<path d="M605.5,10.55H618.5 M605.5,14.15H618.5" stroke="#000" stroke-width="0.85" fill="none"/>
</g>
</svg>
</body></html>
